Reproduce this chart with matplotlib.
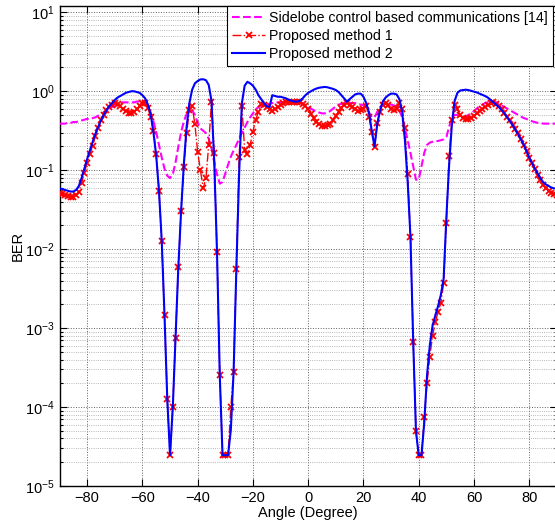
import matplotlib
matplotlib.use("Agg")
import matplotlib.pyplot as plt
from matplotlib.ticker import NullFormatter, FixedLocator, LogFormatterSciNotation

plt.rcParams['font.family'] = ['Liberation Sans', 'DejaVu Sans']
plt.rcParams['mathtext.fontset'] = 'custom'
plt.rcParams['mathtext.rm'] = 'Liberation Sans'
plt.rcParams['mathtext.it'] = 'Liberation Sans'
plt.rcParams['mathtext.default'] = 'regular'

# Angle grid (degrees)
angles = list(range(-90, 91))

# log10(BER), one value per degree from -90 to 90
log10_ber_sidelobe = [
    -0.41, -0.41, -0.41, -0.40, -0.40, -0.39, -0.39, -0.38, -0.37, -0.36,
    -0.35, -0.35, -0.34, -0.33, -0.31, -0.29, -0.27, -0.24, -0.22, -0.20,
    -0.18, -0.16, -0.15, -0.14, -0.14, -0.14, -0.14, -0.14, -0.13, -0.13,
    -0.13, -0.15, -0.19, -0.27, -0.38, -0.52, -0.68, -0.84, -0.98, -1.07,
    -1.10, -1.05, -0.90, -0.70, -0.52, -0.38, -0.29, -0.25, -0.24, -0.30,
    -0.40, -0.47, -0.50, -0.53, -0.60, -0.72, -0.90, -1.05, -1.17, -1.15,
    -1.04, -0.93, -0.83, -0.75, -0.68, -0.60, -0.53, -0.46, -0.39, -0.33,
    -0.28, -0.23, -0.20, -0.18, -0.17, -0.16, -0.16, -0.15, -0.14, -0.14,
    -0.14, -0.14, -0.14, -0.14, -0.14, -0.14, -0.14, -0.15, -0.16, -0.18,
    -0.20, -0.22, -0.24, -0.26, -0.27, -0.28, -0.28, -0.27, -0.25, -0.22,
    -0.19, -0.17, -0.16, -0.15, -0.15, -0.15, -0.15, -0.15, -0.16, -0.17,
    -0.18, -0.21, -0.27, -0.33, -0.33, -0.26, -0.20, -0.17, -0.16, -0.16,
    -0.17, -0.18, -0.19, -0.24, -0.33, -0.47, -0.62, -0.78, -0.95, -1.12,
    -1.12, -0.95, -0.78, -0.68, -0.65, -0.64, -0.63, -0.63, -0.62, -0.61,
    -0.58, -0.45, -0.33, -0.30, -0.30, -0.32, -0.33, -0.32, -0.30, -0.28,
    -0.25, -0.22, -0.19, -0.17, -0.15, -0.14, -0.13, -0.13, -0.14, -0.16,
    -0.18, -0.20, -0.22, -0.24, -0.26, -0.28, -0.30, -0.32, -0.34, -0.35,
    -0.37, -0.38, -0.39, -0.40, -0.40, -0.41, -0.41, -0.41, -0.41, -0.41, -0.41,
]

log10_ber_method1 = [
    -1.29, -1.30, -1.32, -1.33, -1.34, -1.34, -1.32, -1.27, -1.16, -1.03,
    -0.91, -0.80, -0.69, -0.57, -0.46, -0.37, -0.30, -0.24, -0.20, -0.17,
    -0.15, -0.16, -0.19, -0.23, -0.25, -0.27, -0.27, -0.26, -0.23, -0.19,
    -0.15, -0.15, -0.21, -0.33, -0.50, -0.80, -1.26, -1.90, -2.84, -3.90,
    -4.61, -4.00, -3.13, -2.23, -1.52, -0.96, -0.53, -0.24, -0.19, -0.42,
    -0.77, -1.00, -1.23, -1.10, -0.68, -0.13, -0.78, -2.04, -3.60, -4.61,
    -4.61, -4.61, -4.00, -3.56, -2.25, -0.83, -0.19, -0.74, -0.80, -0.68,
    -0.51, -0.36, -0.26, -0.16, -0.17, -0.20, -0.23, -0.245, -0.23, -0.20,
    -0.17, -0.15, -0.14, -0.13, -0.13, -0.13, -0.13, -0.14, -0.16, -0.19,
    -0.23, -0.29, -0.34, -0.385, -0.42, -0.435, -0.44, -0.43, -0.41, -0.36,
    -0.31, -0.26, -0.215, -0.17, -0.15, -0.17, -0.20, -0.23, -0.245, -0.24,
    -0.22, -0.19, -0.32, -0.52, -0.71, -0.40, -0.26, -0.18, -0.15, -0.17,
    -0.22, -0.24, -0.22, -0.15, -0.22, -0.47, -1.05, -1.84, -3.17, -4.30,
    -4.61, -4.61, -4.13, -3.70, -3.36, -3.10, -2.92, -2.80, -2.68, -2.43,
    -1.67, -0.82, -0.37, -0.17, -0.23, -0.30, -0.34, -0.355, -0.355, -0.34,
    -0.31, -0.28, -0.25, -0.225, -0.205, -0.175, -0.15, -0.14, -0.16, -0.19,
    -0.23, -0.27, -0.32, -0.37, -0.43, -0.48, -0.53, -0.60, -0.68, -0.76,
    -0.84, -0.91, -0.99, -1.06, -1.13, -1.19, -1.23, -1.26, -1.29, -1.30, -1.31,
]

log10_ber_method2 = [
    -1.23, -1.24, -1.25, -1.26, -1.27, -1.27, -1.25, -1.20, -1.10, -0.98,
    -0.86, -0.75, -0.64, -0.54, -0.45, -0.37, -0.30, -0.24, -0.19, -0.15,
    -0.11, -0.08, -0.06, -0.04, -0.02, -0.01, 0.00, 0.00, -0.01, -0.02,
    -0.05, -0.09, -0.17, -0.29, -0.52, -0.82, -1.26, -1.90, -2.84, -3.90,
    -4.61, -4.00, -3.13, -2.23, -1.52, -0.92, -0.45, -0.15, 0.02, 0.10,
    0.13, 0.15, 0.152, 0.14, 0.08, -0.12, -0.90, -2.04, -3.60, -4.61,
    -4.61, -4.61, -4.29, -3.56, -2.25, -1.05, -0.15, 0.07, 0.12, 0.10,
    0.07, 0.02, -0.05, -0.10, -0.15, -0.19, -0.20, -0.05, -0.06, -0.07,
    -0.07, -0.08, -0.09, -0.11, -0.12, -0.13, -0.13, -0.12, -0.09, -0.05,
    -0.02, 0.00, 0.02, 0.035, 0.045, 0.05, 0.055, 0.05, 0.04, 0.03,
    0.015, -0.01, -0.05, -0.09, -0.13, -0.10, -0.07, -0.04, -0.03, -0.03,
    -0.07, -0.15, -0.27, -0.50, -0.70, -0.41, -0.24, -0.13, -0.08, -0.05,
    -0.03, -0.03, -0.04, -0.10, -0.26, -0.62, -1.15, -1.84, -3.17, -4.31,
    -4.61, -4.61, -4.20, -3.60, -3.22, -2.97, -2.84, -2.72, -2.58, -2.38,
    -1.60, -0.93, -0.42, -0.12, -0.02, 0.01, 0.015, 0.02, 0.015, 0.005,
    -0.005, -0.015, -0.03, -0.045, -0.06, -0.08, -0.11, -0.14, -0.17, -0.20,
    -0.24, -0.28, -0.33, -0.38, -0.43, -0.49, -0.55, -0.61, -0.68, -0.76,
    -0.84, -0.91, -0.98, -1.04, -1.10, -1.15, -1.18, -1.20, -1.22, -1.23, -1.23,
]

series_labels = [
    'Sidelobe control based communications [14]',
    'Proposed method 1',
    'Proposed method 2',
]
x_ticks = [-80, -60, -40, -20, 0, 20, 40, 60, 80]
y_ticks = [1e-5, 1e-4, 1e-3, 1e-2, 1e-1, 1e0, 1e1]

ber_sidelobe = [10 ** v for v in log10_ber_sidelobe]
ber_method1 = [10 ** v for v in log10_ber_method1]
ber_method2 = [10 ** v for v in log10_ber_method2]

fig = plt.figure(figsize=(5.55, 5.2), dpi=100)
ax = fig.add_axes([59.5 / 555, 34 / 520, 497.4 / 555, 480 / 520])

ax.plot(angles, ber_sidelobe, linestyle='--', color=(1, 0, 1), linewidth=1.5,
        label=series_labels[0], zorder=3)
ax.plot(angles, ber_method1, linestyle='-.', color=(1, 0, 0), linewidth=1.0,
        marker='x', markersize=4, markeredgewidth=1.3, label=series_labels[1], zorder=4)
ax.plot(angles, ber_method2, linestyle='-', color=(0, 0, 1), linewidth=1.5,
        label=series_labels[2], zorder=5)

ax.set_yscale('log')
ax.set_xlim(-90, 90)
ax.set_ylim(1e-5, 10 ** 1.08)
ax.xaxis.set_major_locator(FixedLocator(x_ticks))
ax.yaxis.set_major_locator(FixedLocator(y_ticks))
ax.yaxis.set_major_formatter(LogFormatterSciNotation())
minor_y = [m * d for d in y_ticks[:-1] for m in range(2, 10)]
ax.yaxis.set_minor_locator(FixedLocator(minor_y))
ax.yaxis.set_minor_formatter(NullFormatter())

ax.grid(True, which='major', linestyle=':', color='#606060', linewidth=0.7)
ax.grid(True, which='minor', axis='y', linestyle=':', color='#a0a0a0', linewidth=0.6)
ax.set_axisbelow(True)

ax.tick_params(which='both', direction='in', top=True, right=True, labelsize=10.5,
               width=0.8)
ax.tick_params(which='major', length=5)
ax.tick_params(which='minor', length=2.5)
for s in ax.spines.values():
    s.set_linewidth(1.0)

ax.set_xlabel('Angle (Degree)', fontsize=10.5, labelpad=1)
ax.set_ylabel('BER', fontsize=10.5, labelpad=0)

leg = ax.legend(loc='upper right', bbox_to_anchor=(0.992, 1.0), borderaxespad=0,
                fancybox=False, framealpha=1, edgecolor='black', fontsize=10.2,
                handlelength=2.3, handletextpad=0.3, borderpad=0.35, labelspacing=0.3)
leg.get_frame().set_linewidth(0.8)

fig.savefig('out.png', dpi=100)
